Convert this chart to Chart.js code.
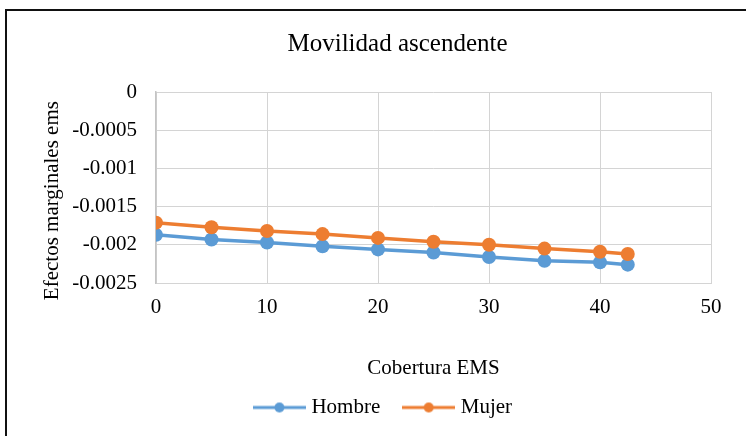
<!DOCTYPE html>
<html>
<head>
<meta charset="utf-8">
<script src="https://cdn.jsdelivr.net/npm/chart.js@4.4.1/dist/chart.umd.min.js"></script>
<style>
  html, body { margin: 0; padding: 0; background: #fff; }
  #wrap { position: relative; width: 746px; height: 436px; }
</style>
</head>
<body>
<div id="wrap"><canvas id="chart" width="746" height="436"></canvas></div>
<script>
const coverage = [0, 5, 10, 15, 20, 25, 30, 35, 40, 42.5];
const hombre = [-0.00187, -0.00193, -0.00197, -0.00202, -0.00206, -0.0021, -0.00216, -0.00221, -0.00223, -0.00226];
const mujer = [-0.00171, -0.00177, -0.00182, -0.00186, -0.00191, -0.00196, -0.002, -0.00205, -0.00209, -0.00212];
const xTicks = [0, 10, 20, 30, 40, 50];
const yTicks = [0, -0.0005, -0.001, -0.0015, -0.002, -0.0025];

const BLUE = '#5B9BD5';
const ORANGE = '#ED7D31';
const GRID = '#d4d4d4';
const FONT = "'Liberation Serif', 'Times New Roman', serif";

// legend marker: short line with a dot on it
function legendMarker(color) {
  const c = document.createElement('canvas');
  c.width = 53;
  c.height = 12;
  const g = c.getContext('2d');
  g.strokeStyle = color;
  g.lineWidth = 3;
  g.beginPath();
  g.moveTo(0, 6);
  g.lineTo(53, 6);
  g.stroke();
  g.fillStyle = color;
  g.beginPath();
  g.arc(26.5, 6, 5, 0, Math.PI * 2);
  g.fill();
  return c;
}

const toPoints = (ys) => coverage.map((x, i) => ({ x, y: ys[i] }));

const frame = {
  id: 'frame',
  beforeDraw(chart) {
    const ctx = chart.ctx;
    ctx.save();
    ctx.fillStyle = '#fff';
    ctx.fillRect(0, 0, chart.width, chart.height);
    ctx.fillStyle = '#111';
    ctx.fillRect(5, 9, 2, chart.height - 9);
    ctx.fillRect(5, 9, chart.width - 5, 2);
    ctx.restore();
  },
};

// nudge title and legend to where the original has them
const boxShift = {
  id: 'boxShift',
  afterLayout(chart) {
    chart.titleBlock.left += 32;
    chart.titleBlock.right += 32;
    chart.legend.left += 19.5;
    chart.legend.right += 19.5;
  },
};

new Chart(document.getElementById('chart'), {
  type: 'line',
  data: {
    datasets: [
      {
        label: 'Hombre',
        data: toPoints(hombre),
        borderColor: BLUE,
        backgroundColor: BLUE,
        borderWidth: 3.5,
        pointRadius: 7,
        pointBorderWidth: 0,
        order: 1,
      },
      {
        label: 'Mujer',
        data: toPoints(mujer),
        borderColor: ORANGE,
        backgroundColor: ORANGE,
        borderWidth: 3.5,
        pointRadius: 7,
        pointBorderWidth: 0,
        order: 0,
      },
    ],
  },
  options: {
    responsive: false,
    animation: false,
    layout: { padding: { left: 20, right: 35, top: 0, bottom: 8 } },
    plugins: {
      title: {
        display: true,
        text: 'Movilidad ascendente',
        color: '#000',
        font: { family: FONT, size: 25, weight: 'normal' },
        padding: { top: 29, bottom: 33 },
      },
      legend: {
        position: 'bottom',
        labels: {
          color: '#000',
          font: { family: FONT, size: 21 },
          usePointStyle: true,
          pointStyleWidth: 43,
          padding: 27,
          generateLabels: (chart) =>
            chart.data.datasets.map((ds, i) => ({
              text: ds.label,
              pointStyle: legendMarker(ds.borderColor),
              fillStyle: ds.borderColor,
              strokeStyle: ds.borderColor,
              lineWidth: 0,
              fontColor: '#000',
              datasetIndex: i,
              hidden: false,
            })),
        },
      },
      tooltip: { enabled: false },
    },
    scales: {
      x: {
        type: 'linear',
        min: 0,
        max: 50,
        afterBuildTicks: (scale) => { scale.ticks = xTicks.map((v) => ({ value: v })); },
        afterFit: (scale) => { scale.height = 87; },
        grid: { color: GRID, drawTicks: false },
        border: { color: GRID },
        ticks: {
          color: '#000',
          padding: 12,
          font: { family: FONT, size: 21 },
        },
        title: {
          display: true,
          text: 'Cobertura EMS',
          color: '#000',
          font: { family: FONT, size: 21 },
          padding: { top: 0, bottom: -10.6 },
        },
      },
      y: {
        min: -0.0025,
        max: 0,
        afterBuildTicks: (scale) => { scale.ticks = yTicks.map((v) => ({ value: v })); },
        afterFit: (scale) => { scale.width = 136; },
        grid: { color: GRID, drawTicks: false },
        border: { color: '#c4c4c4', width: 1.5 },
        ticks: {
          color: '#000',
          padding: 19,
          font: { family: FONT, size: 21 },
          callback: (v) => (v === 0 ? '0' : String(parseFloat(Number(v).toFixed(4)))),
        },
        title: {
          display: true,
          text: 'Efectos marginales ems     ',
          color: '#000',
          font: { family: FONT, size: 21 },
          padding: { top: 19.4, bottom: 0 },
        },
      },
    },
  },
  plugins: [frame, boxShift],
});
</script>
</body>
</html>
